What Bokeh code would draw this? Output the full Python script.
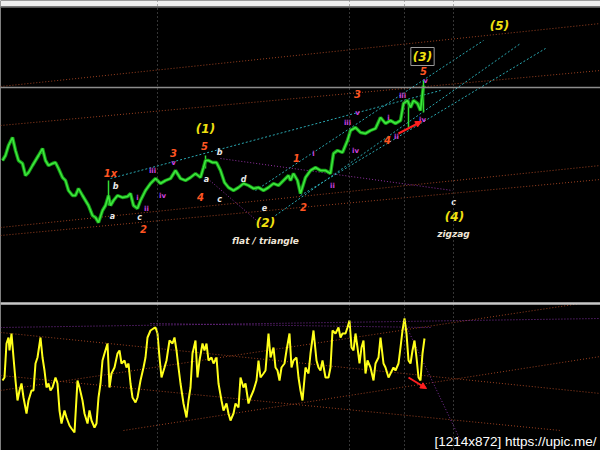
from bokeh.plotting import figure
from bokeh.models import Range1d, Span, ColumnDataSource, Label, Arrow, NormalHead, BoxAnnotation
from bokeh.core.properties import value
from bokeh.embed import file_html
from bokeh.resources import INLINE

# ---------------- data ----------------
# price pane (bar position, price value)
price_x = [2,5,8,12,15,18,22,25,28,32,35,38,42,45,48,52,55,58,62,65,68,72,75,78,82,85,88,92,95,98,
           102,105,108,110,113,117,122,127,130,133,137,140,145,150,155,160,165,170,175,180,185,190,195,200,
           203,205,208,212,216,220,224,228,233,238,243,248,253,258,263,268,273,278,283,288,290,293,297,300,
           305,310,315,320,325,330,333,337,342,347,350,355,360,365,370,375,380,385,390,395,400,403,407,410,
           413,417,420,423]
price_y = [143,148,158,166,153,143,140,128,131,138,143,148,155,143,138,140,141,135,126,123,113,108,108,115,108,103,98,88,86,81,
           93,98,108,98,103,108,106,107,110,98,95,103,113,120,125,120,123,125,133,125,123,126,130,126,
           136,143,143,141,141,133,121,116,113,116,120,118,115,116,113,116,120,118,123,128,123,130,123,110,
           126,133,136,133,133,130,150,153,151,163,173,176,171,170,173,175,186,180,183,180,183,200,203,196,
           203,200,193,218]
wick_x = [108, 205, 408, 423]
wick_hi = [123, 148, 203, 223]
wick_lo = [98, 135, 176, 191]

# oscillator pane
osc_x = [2,4,6,8,9,11,13,15,17,19,21,23,26,28,31,33,35,37,40,42,44,46,48,50,52,55,57,59,61,64,66,69,71,74,
         77,79,82,84,87,89,91,94,96,98,100,102,104,107,109,111,114,117,119,121,124,126,128,130,132,135,137,
         140,143,145,147,150,153,155,157,159,161,164,166,169,172,174,176,178,180,183,186,188,190,192,195,197,
         199,202,204,206,208,211,213,216,218,221,223,226,228,230,233,235,238,240,243,245,248,250,253,256,258,
         260,263,265,268,270,273,275,277,279,281,284,286,289,291,293,296,298,300,302,305,308,310,313,316,318,
         320,322,325,328,330,332,335,338,340,342,345,347,349,351,353,355,357,359,361,363,365,367,370,373,375,
         378,380,383,385,388,390,393,395,398,400,402,404,406,408,410,412,414,416,418,420,422,424]
osc_y = [70,73,107,113,100,117,93,70,50,60,67,53,37,50,60,60,87,93,113,93,80,63,67,60,63,73,67,40,27,40,33,25,22,18,
         70,63,50,37,27,40,30,23,27,53,67,90,97,107,63,77,83,97,100,87,90,83,87,67,53,48,53,
         70,83,93,113,120,122,123,117,93,73,83,90,110,107,113,100,83,67,47,33,50,63,97,110,73,
         90,107,100,107,90,93,87,93,67,50,40,47,37,30,37,47,43,73,63,67,47,53,60,70,90,
         73,77,80,117,93,103,83,80,70,83,87,100,117,83,90,93,73,60,50,83,77,97,120,90,83,
         80,90,73,73,83,120,117,123,113,117,117,123,130,103,100,117,103,87,103,110,77,90,83,70,87,
         93,113,87,83,73,77,83,80,87,103,120,132,117,90,87,100,110,93,73,70,97,112]

# trend lines: price pane (x0, y0, x1, y1)
brown_top = dict(x0=[0, 0, 0, 0], y0=[217, 178, 76, 68], x1=[600, 600, 600, 600], y1=[280, 233, 138, 124])
purple_top = dict(x0=[220, 207], y0=[145, 125], x1=[452, 262], y1=[113, 78])
cyan_top = dict(x0=[110, 255, 275, 300], y0=[125, 113, 88, 108], x1=[440, 483, 520, 545], y1=[213, 263, 260, 255])
# oscillator pane
brown_osc = dict(x0=[0, 0, 0, 123], y0=[118, 60, 75, 20], x1=[600, 580, 560, 600], y1=[57, 147, 20, 94])
purple_osc = dict(x0=[0, 150, 404], y0=[123, 127, 128], x1=[600, 430, 460], y1=[132, 123, 10])

grid_x = [157, 349, 404, 453]
last_price = 216
pane_split = 147

wave_big = ["(1)", "(2)", "(4)", "(5)"]
wave_big_x = [205, 265, 454, 499]
wave_big_y = [175, 81, 87, 278]
wave3_text, wave3_x, wave3_y = "(3)", 422, 247

note_text = ["flat / triangle", "zigzag"]
note_x = [265, 453]
note_y = [63, 70]

minor_text = ["1x", "2", "3", "5", "4", "1", "2", "3", "4", "5"]
minor_x = [110, 143, 173, 204, 200, 296, 303, 357, 387, 423]
minor_y = [130, 75, 151, 158, 107, 146, 97, 210, 164, 233]

abc_text = ["b", "a", "c", "a", "b", "c", "d", "e", "c"]
abc_x = [115, 112, 139, 206, 219, 219, 243, 264, 453]
abc_y = [117, 87, 86, 124, 151, 104, 124, 96, 101]

sub_text = ["i", "ii", "iii", "iv", "v", "i", "ii", "iii", "iv", "v", "i", "ii", "iii", "iv", "v"]
sub_x = [137, 146, 152, 162, 173, 313, 332, 347, 355, 357, 388, 396, 402, 422, 425]
sub_y = [106, 95, 133, 108, 141, 150, 118, 181, 153, 191, 186, 167, 208, 184, 223]

credit = "[1214x872] https://upic.me/"

# ---------------- figure ----------------
W, H = 600, 450
p = figure(width=W, height=H, output_backend="svg", toolbar_location=None,
           x_range=Range1d(0, 600), y_range=Range1d(-147, 303),
           x_axis_location=None, y_axis_location=None, min_border=0)
p.extra_y_ranges = {"osc": Range1d(0, 450)}
p.background_fill_color = "black"
p.border_fill_color = "black"
p.outline_line_color = None
p.grid.visible = False

# terminal toolbar strip at the very top
p.add_layout(BoxAnnotation(bottom=297, top=303, fill_color="#eeeeee", fill_alpha=1, line_color=None))
p.add_layout(Span(location=296, dimension="width", line_color="#555555", line_width=1))

for gx in grid_x:
    p.add_layout(Span(location=gx, dimension="height", line_color="#6a6a6a",
                      line_dash="1 3", line_width=1))
p.add_layout(Span(location=last_price, dimension="width", line_color="#8c8c8c", line_width=1.5))
p.add_layout(Span(location=pane_split, dimension="width", line_color="#c8c8c8", line_width=2.5,
                  y_range_name="osc"))

p.segment(x0="x0", y0="y0", x1="x1", y1="y1", source=ColumnDataSource(brown_top),
          line_color="#9a4020", line_dash="1 2", line_width=1)
p.segment(x0="x0", y0="y0", x1="x1", y1="y1", source=ColumnDataSource(purple_top),
          line_color="#9030a0", line_dash="1 2", line_width=1)
p.segment(x0="x0", y0="y0", x1="x1", y1="y1", source=ColumnDataSource(cyan_top),
          line_color="#2aa7b0", line_dash="2 2", line_width=1)
p.segment(x0="x0", y0="y0", x1="x1", y1="y1", source=ColumnDataSource(brown_osc),
          line_color="#9a4020", line_dash="1 2", line_width=1, y_range_name="osc")
p.segment(x0="x0", y0="y0", x1="x1", y1="y1", source=ColumnDataSource(purple_osc),
          line_color="#8030a0", line_dash="1 2", line_width=1, y_range_name="osc")

# price
p.segment(x0=wick_x, y0=wick_lo, x1=wick_x, y1=wick_hi, line_color="#33dd33", line_width=1.5)
p.line(price_x, price_y, line_color="#159a15", line_width=3.5)
p.line(price_x, price_y, line_color="#3ee83e", line_width=1.5)

# oscillator
p.line(osc_x, osc_y, line_color="#ffff1a", line_width=2, y_range_name="osc")

# arrows
p.add_layout(Arrow(x_start=398, y_start=170, x_end=421, y_end=182, line_color="#ff2020", line_width=2,
                   end=NormalHead(size=6, fill_color="#ff2020", line_color="#ff2020")))
p.add_layout(Arrow(x_start=408, y_start=73, x_end=426, y_end=62, line_color="#ff2020", line_width=2,
                   y_range_name="osc",
                   end=NormalHead(size=6, fill_color="#ff2020", line_color="#ff2020")))

font = value("DejaVu Sans")
p.text(x=wave_big_x, y=wave_big_y, text=wave_big, text_color="#f0e010", text_font=font,
       text_font_style="bold italic", text_font_size="12px", text_align="center", text_baseline="middle")
p.add_layout(Label(x=wave3_x, y=wave3_y, text=wave3_text, text_color="#f0e010", text_font="DejaVu Sans",
                   text_font_style="bold italic", text_font_size="12px", text_align="center",
                   text_baseline="middle", border_line_color="#9a9a9a", border_line_width=1,
                   padding=2))
p.text(x=note_x, y=note_y, text=note_text, text_color="#efe6d8", text_font=font,
       text_font_style="bold italic", text_font_size="9px", text_align="center", text_baseline="middle")
p.text(x=minor_x, y=minor_y, text=minor_text, text_color="#ff5522", text_font=font,
       text_font_style="bold italic", text_font_size="10px", text_align="center", text_baseline="middle")
p.text(x=abc_x, y=abc_y, text=abc_text, text_color="#e8e8e8", text_font=font,
       text_font_style="bold italic", text_font_size="8px", text_align="center", text_baseline="middle")
p.text(x=sub_x, y=sub_y, text=sub_text, text_color="#d040e0", text_font=font,
       text_font_style="bold", text_font_size="7px", text_align="center", text_baseline="middle")
p.text(x=[596], y=[9], text=[credit], text_color="#ffffff", text_font=value("Liberation Sans"),
       text_font_size="13.5px", text_align="right", text_baseline="alphabetic", y_range_name="osc")

open("out.html", "w").write(file_html(p, INLINE))
